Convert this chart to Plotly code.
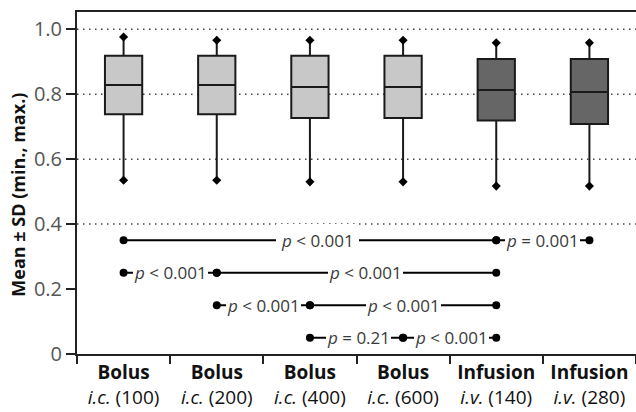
import plotly.graph_objects as go

# ---- data ----
categories = [
    "<b>Bolus</b><br><i>i.c.</i> (100)",
    "<b>Bolus</b><br><i>i.c.</i> (200)",
    "<b>Bolus</b><br><i>i.c.</i> (400)",
    "<b>Bolus</b><br><i>i.c.</i> (600)",
    "<b>Infusion</b><br><i>i.v.</i> (140)",
    "<b>Infusion</b><br><i>i.v.</i> (280)",
]
mins = [0.535, 0.535, 0.53, 0.53, 0.517, 0.517]
q1s = [0.738, 0.738, 0.727, 0.727, 0.719, 0.708]
medians = [0.828, 0.828, 0.822, 0.822, 0.813, 0.807]
q3s = [0.918, 0.918, 0.918, 0.918, 0.908, 0.908]
maxs = [0.976, 0.966, 0.966, 0.966, 0.958, 0.958]
group = ["bolus", "bolus", "bolus", "bolus", "infusion", "infusion"]

y_ticks = [0, 0.2, 0.4, 0.6, 0.8, 1.0]
y_ticktext = ["0", "0.2", "0.4", "0.6", "0.8", "1.0"]
grid_values = [0.4, 0.6, 0.8, 1.0]
y_title = "<b>Mean ± SD (min., max.)</b>"

# pairwise comparisons: level, segment start/end (category index), label, label position
comp_levels = [0.35, 0.25, 0.15, 0.05]
comp_from = [[0, 4], [0, 1], [1, 2], [2, 3]]
comp_to = [[4, 5], [1, 4], [2, 4], [3, 4]]
comp_labels = [
    ["<i>p</i> &lt; 0.001", "<i>p</i> = 0.001"],
    ["<i>p</i> &lt; 0.001", "<i>p</i> &lt; 0.001"],
    ["<i>p</i> &lt; 0.001", "<i>p</i> &lt; 0.001"],
    ["<i>p</i> = 0.21", "<i>p</i> &lt; 0.001"],
]
comp_label_x = [[2.08, 4.5], [0.5, 2.6], [1.5, 3.0], [2.52, 3.52]]
comp_label_pad = [[5, 1], [1, 1], [1, 1], [1, 1]]

colors = {"bolus": "#c8c8c8", "infusion": "#666666"}
FONT = "Open Sans"

fig = go.Figure()

for g in ["bolus", "infusion"]:
    idx = [i for i, gg in enumerate(group) if gg == g]
    fig.add_trace(go.Box(
        x=[categories[i] for i in idx],
        q1=[q1s[i] for i in idx],
        median=[medians[i] for i in idx],
        q3=[q3s[i] for i in idx],
        lowerfence=[mins[i] for i in idx],
        upperfence=[maxs[i] for i in idx],
        fillcolor=colors[g],
        line=dict(color="#1a1a1a", width=2),
        whiskerwidth=0,
        width=0.4,
        boxpoints=False,
        showlegend=False,
        hoverinfo="skip",
    ))

# diamonds at min / max
fig.add_trace(go.Scatter(
    x=categories + categories,
    y=mins + maxs,
    mode="markers",
    marker=dict(symbol="diamond", size=7, color="#000"),
    showlegend=False, hoverinfo="skip",
))

# comparison lines
for lvl, froms, tos, labs, lxs, pads in zip(comp_levels, comp_from, comp_to,
                                             comp_labels, comp_label_x, comp_label_pad):
    for a, b, lab, lx, pad in zip(froms, tos, labs, lxs, pads):
        fig.add_trace(go.Scatter(
            x=[categories[a], categories[b]],
            y=[lvl, lvl],
            mode="lines+markers",
            line=dict(color="#000", width=2),
            marker=dict(symbol="circle", size=8, color="#000"),
            showlegend=False, hoverinfo="skip",
            cliponaxis=False,
        ))
        fig.add_annotation(
            x=lx, y=lvl, xref="x", yref="y", text=lab, showarrow=False,
            font=dict(family=FONT, size=17, color="#3a3a3a"),
            bgcolor="white", borderpad=pad, borderwidth=0,
        )

# y-axis title
fig.add_annotation(
    x=-0.106, y=0.465, xref="paper", yref="paper", text=y_title,
    textangle=-90, showarrow=False, xanchor="center", yanchor="middle",
    font=dict(family=FONT, size=18, color="#111"),
)

for gv in grid_values:
    fig.add_shape(
        type="line", xref="paper", yref="y", x0=0, x1=1, y0=gv, y1=gv,
        line=dict(color="#444", width=1.5, dash="1.5px,4.5px"), layer="below",
    )

fig.update_layout(
    width=636, height=412,
    margin=dict(l=77, r=0, t=12, b=58, autoexpand=False),
    plot_bgcolor="white", paper_bgcolor="white",
    boxmode="overlay",
    font=dict(family=FONT, color="#222"),
    xaxis=dict(
        type="category",
        categoryorder="array", categoryarray=categories,
        range=[-0.5, 5.5],
        tickson="boundaries",
        ticks="outside", ticklen=8, tickwidth=1.5, tickcolor="#222",
        showline=True, linecolor="#222", linewidth=2, mirror=True,
        showgrid=False, zeroline=False, automargin=False,
        tickfont=dict(family=FONT, size=19, color="#111"),
    ),
    yaxis=dict(
        range=[0, 1.053],
        tickvals=y_ticks, ticktext=y_ticktext,
        ticks="outside", ticklen=9, tickwidth=1.5, tickcolor="#222",
        showline=True, linecolor="#222", linewidth=2,
        showgrid=False, zeroline=False, automargin=False,
        tickfont=dict(family=FONT, size=20, color="#555"),
    ),
)

fig.write_html(
    "out.html",
    config={"displayModeBar": False},
    post_script="document.body.style.margin='0';document.body.style.padding='0';",
)
